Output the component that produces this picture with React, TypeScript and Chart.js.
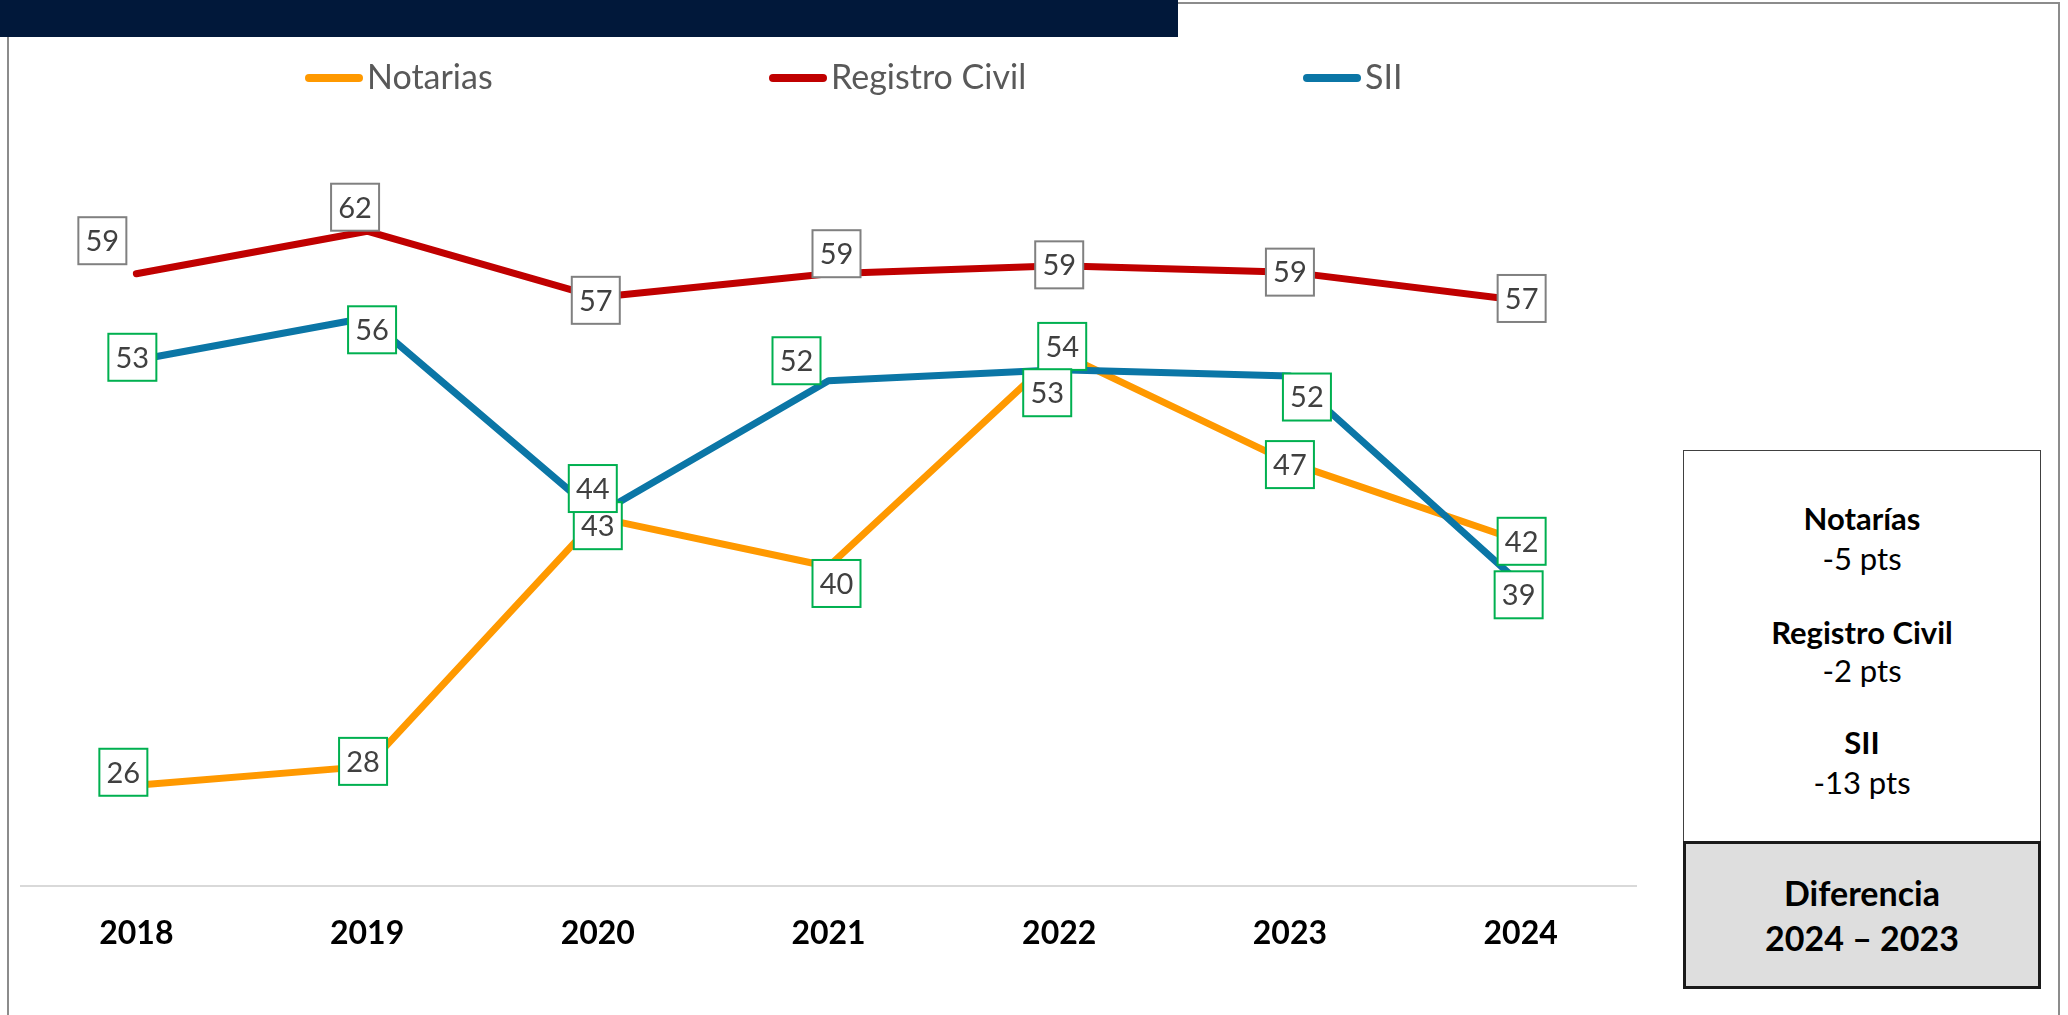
import React, { useEffect, useRef } from "react";
import { Chart, registerables } from "chart.js";

Chart.register(...registerables);

// ---------- data ----------
const years = ["2018", "2019", "2020", "2021", "2022", "2023", "2024"];
const notarias = [26.4, 27.6, 43.4, 40.3, 53.9, 46.9, 41.9];
const registroCivil = [58.9, 61.6, 57.4, 58.9, 59.4, 59.0, 57.2];
const sii = [53.4, 56.1, 43.6, 52.1, 52.8, 52.4, 39.2];
const seriesNames = ["Notarias", "Registro Civil", "SII"];
const yMin = 20;
const yMax = 70;

const diffNames = ["Notarías", "Registro Civil", "SII"];
const diffTexts = ["-5 pts", "-2 pts", "-13 pts"];
const diffTitle = ["Diferencia", "2024 – 2023"];

// ---------- styles / layout ----------
const seriesColors = ["#FF9900", "#C00000", "#0B76A6"];
const labelBorderColors = ["#00B050", "#808080", "#00B050"];
const drawOrder = [3, 2, 1];
// label box offsets from the point (px)
const labelOffsets: number[][][] = [
  [[-13, -13], [-4, -5], [0, 8], [8, 17], [3, -6], [0, 2], [1, 0]],
  [[-34, -33], [-12, -24], [-2, 3], [8, -20], [0, -1], [0, 0], [1, -2]],
  [[-4, -3], [5, 12], [-5, -26], [-32, -20], [-12, 23], [17, 21], [-2, 11]],
];
const legendX = [305, 769, 1303];
const legendY = 78;

const FONT = "Lato, 'Open Sans', sans-serif";

const boxLabelPlugin = {
  id: "boxLabels",
  afterDatasetsDraw(chart: any) {
    const ctx = chart.ctx;
    ctx.save();
    chart.data.datasets.forEach((ds: any, di: number) => {
      const meta = chart.getDatasetMeta(di);
      meta.data.forEach((pt: any, i: number) => {
        const off = labelOffsets[di][i];
        const cx = pt.x + off[0];
        const cy = pt.y + off[1];
        const w = 48;
        const h = 47;
        ctx.fillStyle = "#ffffff";
        ctx.fillRect(cx - w / 2, cy - h / 2, w, h);
        ctx.strokeStyle = labelBorderColors[di];
        ctx.lineWidth = 2;
        ctx.strokeRect(cx - w / 2, cy - h / 2, w, h);
        ctx.fillStyle = "#404040";
        ctx.font = `29px ${FONT}`;
        ctx.textAlign = "center";
        ctx.textBaseline = "middle";
        ctx.fillText(String(Math.round(ds.data[i])), cx, cy + 1);
      });
    });
    ctx.restore();
  },
};

const legendPlugin = {
  id: "customLegend",
  afterDraw(chart: any) {
    const ctx = chart.ctx;
    ctx.save();
    chart.data.datasets.forEach((ds: any, di: number) => {
      const x = legendX[di];
      ctx.strokeStyle = ds.borderColor;
      ctx.lineWidth = 8;
      ctx.lineCap = "round";
      ctx.beginPath();
      ctx.moveTo(x + 4, legendY);
      ctx.lineTo(x + 54, legendY);
      ctx.stroke();
      ctx.fillStyle = "#595959";
      ctx.font = `34px ${FONT}`;
      ctx.textAlign = "left";
      ctx.textBaseline = "alphabetic";
      ctx.fillText(ds.label, x + 62, legendY + 11);
    });
    ctx.restore();
  },
};

function LineChart() {
  const ref = useRef<HTMLCanvasElement | null>(null);
  useEffect(() => {
    if (!ref.current) return;
    const series = [notarias, registroCivil, sii];
    const chart = new Chart(ref.current, {
      type: "line",
      data: {
        labels: years,
        datasets: series.map((d, i) => ({
          label: seriesNames[i],
          data: d,
          borderColor: seriesColors[i],
          backgroundColor: seriesColors[i],
          borderWidth: 7,
          borderCapStyle: "round",
          borderJoinStyle: "round",
          pointRadius: 0,
          tension: 0,
          order: drawOrder[i],
        })),
      },
      options: {
        responsive: false,
        animation: false,
        layout: { padding: { left: 21, right: 24, top: 99, bottom: 29 } },
        plugins: { legend: { display: false }, tooltip: { enabled: false } },
        scales: {
          x: {
            type: "category",
            offset: true,
            grid: { display: false, drawTicks: false },
            border: { display: true, color: "#D9D9D9", width: 2 },
            ticks: {
              color: "#000000",
              padding: 28,
              font: { family: FONT, size: 32, weight: "bold" },
              maxRotation: 0,
            },
            afterFit: (scale: any) => {
              scale.height = 100;
            },
          },
          y: {
            display: false,
            min: yMin,
            max: yMax,
          },
        },
      } as any,
      plugins: [boxLabelPlugin, legendPlugin],
    });
    return () => chart.destroy();
  }, []);
  return (
    <canvas
      ref={ref}
      width={1660}
      height={1015}
      style={{ position: "absolute", left: 0, top: 0, width: 1660, height: 1015 }}
    />
  );
}

function TextLine(props: { text: string; cy: number; size: number; bold?: boolean }) {
  const lh = 40;
  return (
    <div
      style={{
        position: "absolute",
        left: 0,
        width: "100%",
        top: props.cy - 21,
        height: lh,
        lineHeight: `${lh}px`,
        textAlign: "center",
        fontFamily: FONT,
        fontSize: props.size,
        fontWeight: props.bold ? 700 : 400,
        color: "#000000",
        whiteSpace: "nowrap",
      }}
    >
      {props.text}
    </div>
  );
}

export default function App() {
  const boxLeft = 1683;
  const boxWidth = 358;
  const topBoxTop = 450;
  const grayTop = 841;
  const grayBottom = 989;
  const nameY = [519, 633, 743];
  const valY = [559, 671, 783];
  const titleY = [894, 939];
  return (
    <div
      style={{
        position: "absolute",
        left: 0,
        top: 0,
        width: 2068,
        height: 1015,
        overflow: "hidden",
        background: "#ffffff",
      }}
    >
      <div
        style={{
          position: "absolute",
          left: 7,
          top: 2,
          width: 2053,
          height: 1100,
          border: "2px solid #8C8C8C",
          boxSizing: "border-box",
        }}
      />
      <LineChart />
      <div
        style={{
          position: "absolute",
          left: 0,
          top: 0,
          width: 1178,
          height: 37,
          background: "#01183A",
        }}
      />
      <div
        style={{
          position: "absolute",
          left: boxLeft,
          top: topBoxTop,
          width: boxWidth,
          height: grayTop - topBoxTop + 1,
          border: "1.5px solid #404040",
          boxSizing: "border-box",
          background: "#ffffff",
        }}
      />
      {diffNames.map((n, i) => (
        <div key={n} style={{ position: "absolute", left: boxLeft, top: 0, width: boxWidth, height: 0 }}>
          <TextLine text={n} cy={nameY[i]} size={31} bold />
          <TextLine text={diffTexts[i]} cy={valY[i]} size={31} />
        </div>
      ))}
      <div
        style={{
          position: "absolute",
          left: boxLeft,
          top: grayTop,
          width: boxWidth,
          height: grayBottom - grayTop,
          border: "3px solid #1A1A1A",
          boxSizing: "border-box",
          background: "#DEDEDE",
        }}
      />
      <div style={{ position: "absolute", left: boxLeft, top: 0, width: boxWidth, height: 0 }}>
        <TextLine text={diffTitle[0]} cy={titleY[0]} size={34} bold />
        <TextLine text={diffTitle[1]} cy={titleY[1]} size={34} bold />
      </div>
    </div>
  );
}
